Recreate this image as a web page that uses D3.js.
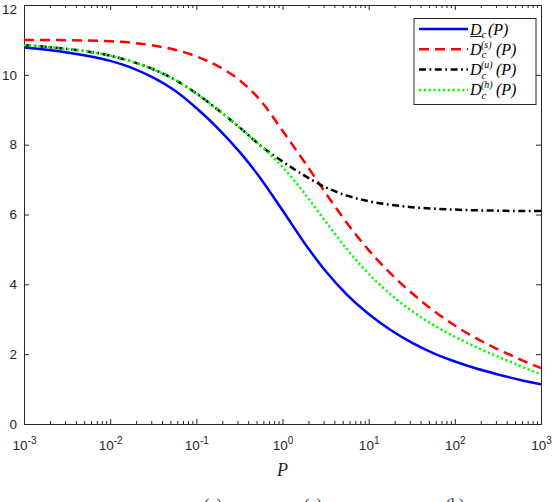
<!DOCTYPE html>
<html>
<head>
<meta charset="utf-8">
<script src="https://cdn.jsdelivr.net/npm/d3@7"></script>
<style>
  body { margin: 0; background: #fff; }
  .math { font-family: "Liberation Serif", "Times New Roman", serif; font-style: italic; }
</style>
</head>
<body>
<script>
// values (quarter decades in P)
var pValues = [0.001, 0.00316, 0.01, 0.0178, 0.0316, 0.0562, 0.1, 0.178, 0.316, 0.562, 1, 1.78, 3.16, 5.62,
               10, 17.8, 31.6, 56.2, 100, 178, 316, 562, 1000];
var dcLow = [10.78, 10.64, 10.40, 10.2, 9.92, 9.55, 9.05, 8.47, 7.8, 7.02, 6.12, 5.2, 4.38, 3.7,
             3.15, 2.7, 2.33, 2.03, 1.79, 1.59, 1.42, 1.27, 1.14];
var dcS   = [11.0, 10.99, 10.96, 10.92, 10.84, 10.72, 10.53, 10.25, 9.85, 9.25, 8.4, 7.52, 6.62, 5.75,
             4.98, 4.32, 3.75, 3.25, 2.82, 2.45, 2.14, 1.86, 1.6];
var dcU   = [10.85, 10.74, 10.55, 10.38, 10.16, 9.86, 9.47, 9.0, 8.5, 7.96, 7.52, 7.12, 6.78, 6.54,
             6.38, 6.28, 6.21, 6.17, 6.14, 6.12, 6.11, 6.1, 6.1];
var dcH   = [10.85, 10.74, 10.55, 10.38, 10.16, 9.86, 9.47, 9.0, 8.5, 7.96, 7.36, 6.62, 5.8, 5.0,
             4.3, 3.72, 3.24, 2.84, 2.5, 2.2, 1.93, 1.67, 1.42];
var xTicks = [1e-3, 1e-2, 1e-1, 1e0, 1e1, 1e2, 1e3];
var xTickExp = ["-3", "-2", "-1", "0", "1", "2", "3"];
var yTicks = [0, 2, 4, 6, 8, 10, 12];
var legendSup = ["", "(s)", "(u)", "(h)"];
var captionLabels = ["(a)", "(a)", "(b)"];

var svgWidth = 554, svgHeight = 502;
var margin = { top: 5, right: 13, bottom: 78, left: 24 };
var width = svgWidth - margin.left - margin.right;
var height = svgHeight - margin.top - margin.bottom;
var axisColor = "#262626";
var tickFont = "Liberation Sans, Arial, Helvetica, sans-serif";

var svg = d3.select("body").append("svg")
  .attr("width", svgWidth)
  .attr("height", svgHeight);

var chartGroup = svg.append("g")
  .attr("transform", `translate(${margin.left}, ${margin.top})`);

var xScale = d3.scaleLog().domain([1e-3, 1e3]).range([0, width]);
var yScale = d3.scaleLinear().domain([0, 12]).range([height, 0]);

// minor ticks for the log axis
var minor = [];
for (var k = -3; k < 3; k++) {
  for (var m = 2; m <= 9; m++) minor.push(m * Math.pow(10, k));
}

function styleAxis(g) {
  g.select(".domain").attr("stroke", axisColor).attr("stroke-width", 1);
  g.selectAll(".tick line").attr("stroke", axisColor).attr("stroke-width", 1);
}

// bottom axis
var xAxisG = chartGroup.append("g")
  .attr("transform", `translate(0, ${height})`)
  .call(d3.axisBottom(xScale).tickValues(xTicks).tickSize(-5).tickSizeOuter(0).tickFormat(() => ""))
  .call(styleAxis);
xAxisG.selectAll(".tick text").remove();
xAxisG.selectAll(".tick").each(function(d, i) {
  var t = d3.select(this).append("text")
    .attr("y", 26)
    .attr("fill", axisColor)
    .attr("font-family", tickFont)
    .attr("font-size", 13.5)
    .attr("text-anchor", "middle");
  t.append("tspan").text("10");
  t.append("tspan").attr("dy", -6).attr("font-size", 10).text(xTickExp[i]);
});
chartGroup.append("g")
  .attr("transform", `translate(0, ${height})`)
  .call(d3.axisBottom(xScale).tickValues(minor).tickSize(-3).tickSizeOuter(0).tickFormat(() => ""))
  .call(styleAxis);

// top axis
chartGroup.append("g")
  .call(d3.axisTop(xScale).tickValues(xTicks).tickSize(-5).tickSizeOuter(0).tickFormat(() => ""))
  .call(styleAxis);
chartGroup.append("g")
  .call(d3.axisTop(xScale).tickValues(minor).tickSize(-3).tickSizeOuter(0).tickFormat(() => ""))
  .call(styleAxis);

// left axis
var yAxisG = chartGroup.append("g")
  .call(d3.axisLeft(yScale).tickValues(yTicks).tickSize(-5).tickSizeOuter(0))
  .call(styleAxis);
yAxisG.selectAll(".tick text")
  .attr("font-family", tickFont)
  .attr("font-size", 13.5)
  .attr("fill", axisColor)
  .attr("x", -7)
  .attr("dy", d => d === 12 ? "0.62em" : "0.32em");

// right axis
chartGroup.append("g")
  .attr("transform", `translate(${width}, 0)`)
  .call(d3.axisRight(yScale).tickValues(yTicks).tickSize(-5).tickSizeOuter(0).tickFormat(() => ""))
  .call(styleAxis);

// curves
var series = [
  { values: dcLow, color: "#0000ff", dash: null },
  { values: dcS, color: "#ff0000", dash: "10,6" },
  { values: dcU, color: "#000000", dash: "7,3.5,1.8,3.5" },
  { values: dcH, color: "#00ff00", dash: "2.2,2.6" }
];

var line = d3.line()
  .x(d => xScale(d[0]))
  .y(d => yScale(d[1]))
  .curve(d3.curveMonotoneX);

chartGroup.selectAll("path.curve").data(series).enter()
  .append("path")
  .attr("class", "curve")
  .attr("d", s => line(pValues.map((p, i) => [p, s.values[i]])))
  .attr("fill", "none")
  .attr("stroke", s => s.color)
  .attr("stroke-width", 2.5)
  .attr("stroke-dasharray", s => s.dash);

// x axis label
svg.append("text")
  .attr("class", "math")
  .attr("x", margin.left + width / 2)
  .attr("y", 476)
  .attr("text-anchor", "middle")
  .attr("font-size", 18)
  .attr("fill", axisColor)
  .text("P");

// legend
var legend = svg.append("g").attr("transform", "translate(414, 18.5)");
legend.append("rect")
  .attr("width", 122)
  .attr("height", 86)
  .attr("fill", "#fff")
  .attr("stroke", axisColor)
  .attr("stroke-width", 1);

var rows = legend.selectAll("g.row").data(series).enter()
  .append("g")
  .attr("class", "row")
  .attr("transform", (d, i) => `translate(0, ${10.5 + i * 20.3})`);

rows.append("line")
  .attr("x1", 5).attr("x2", 54)
  .attr("stroke", d => d.color)
  .attr("stroke-width", 2.5)
  .attr("stroke-dasharray", d => d.dash);

rows.each(function(d, i) {
  var r = d3.select(this);
  r.append("text").attr("class", "math").attr("x", 56).attr("y", 5.5)
    .attr("font-size", 16).attr("fill", "#000").text("D");
  r.append("text").attr("class", "math").attr("x", 67.5).attr("y", 9)
    .attr("font-size", 11).attr("fill", "#000").text("c");
  if (i === 0) {
    r.append("line").attr("x1", 56).attr("x2", 68).attr("y1", 7.5).attr("y2", 7.5)
      .attr("stroke", "#000").attr("stroke-width", 0.9);
    r.append("text").attr("class", "math").attr("x", 74).attr("y", 5.5)
      .attr("font-size", 16).attr("fill", "#000").text("(P)");
  } else {
    r.append("text").attr("class", "math").attr("x", 67).attr("y", -1.5)
      .attr("font-size", 10).attr("fill", "#000").text(legendSup[i]);
    r.append("text").attr("class", "math").attr("x", 82).attr("y", 5.5)
      .attr("font-size", 16).attr("fill", "#000").text("(P)");
  }
});

// caption, cut off by the bottom edge as in the source figure
svg.selectAll("text.caption").data(captionLabels).enter()
  .append("text")
  .attr("class", "caption")
  .attr("x", (d, i) => [213, 313, 455][i])
  .attr("y", 510)
  .attr("text-anchor", "middle")
  .attr("font-family", "Liberation Serif, serif")
  .attr("font-size", 16)
  .attr("fill", "#333")
  .text(d => d);
</script>
</body>
</html>
